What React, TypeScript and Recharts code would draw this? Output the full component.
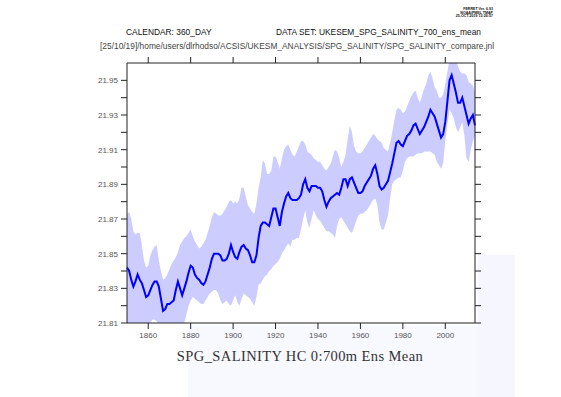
import React from "react";
import {
  ComposedChart,
  Area,
  Line,
  XAxis,
  YAxis,
} from "recharts";

// annual values, 1850..2014
const startYear = 1850;

const meanSal = [
  21.842, 21.840, 21.835, 21.831, 21.834, 21.838, 21.835, 21.833, 21.829, 21.825,
  21.826, 21.829, 21.832, 21.834, 21.834, 21.831, 21.824, 21.817, 21.818, 21.821,
  21.821, 21.822, 21.823, 21.829, 21.834, 21.830, 21.826, 21.830, 21.834, 21.839,
  21.843, 21.842, 21.838, 21.836, 21.835, 21.833, 21.832, 21.834, 21.838, 21.842,
  21.847, 21.850, 21.850, 21.850, 21.849, 21.846, 21.846, 21.847, 21.850, 21.855,
  21.851, 21.848, 21.847, 21.851, 21.854, 21.855, 21.853, 21.852, 21.849, 21.845,
  21.845, 21.849, 21.859, 21.866, 21.868, 21.868, 21.867, 21.866, 21.871, 21.876,
  21.876, 21.871, 21.866, 21.874, 21.879, 21.883, 21.885, 21.882, 21.881, 21.881,
  21.881, 21.882, 21.884, 21.890, 21.893, 21.888, 21.886, 21.889, 21.889, 21.889,
  21.888, 21.888, 21.886, 21.881, 21.877, 21.880, 21.882, 21.883, 21.884, 21.885,
  21.884, 21.888, 21.893, 21.893, 21.889, 21.893, 21.894, 21.891, 21.888, 21.885,
  21.885, 21.886, 21.889, 21.891, 21.893, 21.895, 21.899, 21.901, 21.896, 21.889,
  21.887, 21.888, 21.890, 21.892, 21.897, 21.902, 21.908, 21.914, 21.915, 21.913,
  21.912, 21.915, 21.918, 21.919, 21.921, 21.924, 21.925, 21.922, 21.919, 21.921,
  21.923, 21.926, 21.929, 21.933, 21.931, 21.929, 21.925, 21.921, 21.917, 21.919,
  21.926, 21.938, 21.950, 21.953, 21.948, 21.943, 21.937, 21.937, 21.940, 21.935,
  21.930, 21.925, 21.928, 21.930, 21.924,
];

const upperSal = [
  21.873, 21.874, 21.870, 21.863, 21.861, 21.862, 21.862, 21.855, 21.846, 21.842,
  21.843, 21.849, 21.852, 21.854, 21.855, 21.846, 21.840, 21.835, 21.836, 21.838,
  21.841, 21.844, 21.846, 21.848, 21.851, 21.855, 21.857, 21.859, 21.860, 21.862,
  21.864, 21.860, 21.857, 21.855, 21.853, 21.854, 21.856, 21.858, 21.862, 21.866,
  21.871, 21.874, 21.873, 21.872, 21.872, 21.873, 21.875, 21.877, 21.880, 21.881,
  21.879, 21.880, 21.879, 21.882, 21.888, 21.888, 21.883, 21.878, 21.876, 21.874,
  21.873, 21.879, 21.888, 21.894, 21.904, 21.902, 21.896, 21.896, 21.898, 21.906,
  21.906, 21.903, 21.899, 21.905, 21.910, 21.912, 21.913, 21.910, 21.907, 21.906,
  21.909, 21.912, 21.915, 21.915, 21.913, 21.909, 21.908, 21.907, 21.905, 21.904,
  21.903, 21.903, 21.901, 21.899, 21.898, 21.900, 21.902, 21.906, 21.910, 21.909,
  21.905, 21.900, 21.903, 21.907, 21.916, 21.924, 21.920, 21.912, 21.909, 21.908,
  21.908, 21.909, 21.911, 21.913, 21.915, 21.917, 21.919, 21.918, 21.916, 21.915,
  21.914, 21.911, 21.910, 21.909, 21.914, 21.920, 21.927, 21.933, 21.934, 21.933,
  21.931, 21.932, 21.935, 21.938, 21.941, 21.943, 21.944, 21.940, 21.937, 21.941,
  21.945, 21.948, 21.953, 21.955, 21.951, 21.946, 21.944, 21.940, 21.940, 21.942,
  21.948, 21.955, 21.962, 21.965, 21.965, 21.963, 21.958, 21.955, 21.954, 21.954,
  21.953, 21.949, 21.948, 21.947, 21.943,
];

const lowerSal = [
  21.806, 21.805, 21.802, 21.800, 21.805, 21.810, 21.807, 21.806, 21.806, 21.805,
  21.808, 21.810, 21.812, 21.812, 21.811, 21.808, 21.804, 21.799, 21.800, 21.802,
  21.801, 21.800, 21.800, 21.804, 21.808, 21.806, 21.806, 21.810, 21.815, 21.820,
  21.823, 21.825, 21.824, 21.823, 21.822, 21.821, 21.821, 21.823, 21.825, 21.827,
  21.828, 21.829, 21.829, 21.827, 21.823, 21.821, 21.822, 21.823, 21.821, 21.820,
  21.823, 21.826, 21.822, 21.820, 21.824, 21.827, 21.826, 21.825, 21.824, 21.822,
  21.820, 21.825, 21.832, 21.833, 21.835, 21.837, 21.838, 21.840, 21.841, 21.843,
  21.844, 21.845, 21.847, 21.850, 21.852, 21.854, 21.856, 21.854, 21.858, 21.858,
  21.859, 21.859, 21.864, 21.870, 21.875, 21.868, 21.865, 21.870, 21.875, 21.872,
  21.870, 21.869, 21.867, 21.865, 21.863, 21.863, 21.862, 21.861, 21.859, 21.866,
  21.870, 21.871, 21.869, 21.867, 21.865, 21.863, 21.862, 21.865, 21.869, 21.872,
  21.873, 21.873, 21.874, 21.875, 21.877, 21.879, 21.881, 21.882, 21.878, 21.868,
  21.864, 21.864, 21.868, 21.872, 21.882, 21.890, 21.892, 21.893, 21.894, 21.894,
  21.898, 21.903, 21.905, 21.906, 21.906, 21.906, 21.907, 21.908, 21.908, 21.908,
  21.909, 21.909, 21.909, 21.909, 21.908, 21.907, 21.903, 21.901, 21.899, 21.902,
  21.915, 21.925, 21.933, 21.931, 21.928, 21.923, 21.920, 21.923, 21.926, 21.918,
  21.905, 21.903, 21.910, 21.915, 21.918,
];

const xTicks = [1860, 1880, 1900, 1920, 1940, 1960, 1980, 2000];
const yTicks = [
  21.81, 21.82, 21.83, 21.84, 21.85, 21.86, 21.87, 21.88,
  21.89, 21.9, 21.91, 21.92, 21.93, 21.94, 21.95,
];
const yLabelled = [21.81, 21.83, 21.85, 21.87, 21.89, 21.91, 21.93, 21.95];

const headerLines = [
  "CALENDAR: 360_DAY",
  "DATA SET: UKESEM_SPG_SALINITY_700_ens_mean",
  "[25/10/19]/home/users/dlrhodso/ACSIS/UKESM_ANALYSIS/SPG_SALINITY/SPG_SALINITY_compare.jnl",
];
const ferretLines = ["FERRET Ver. 6.93", "NOAA/PMEL TMAP", "25-OCT-2019 13:26:57"];
const title = "SPG_SALINITY HC 0:700m Ens Mean";

const data = meanSal.map((m, i) => ({
  year: startYear + i,
  mean: m,
  band: [lowerSal[i], upperSal[i]],
}));

const axisColor = "#222";
const tickFont = { fill: "#555", fontSize: 8, fontFamily: "Liberation Sans, Arial, sans-serif" };

export default function App() {
  return (
    <div style={{ position: "absolute", left: 0, top: 0, width: 561, height: 397, background: "#fff" }}>
      <svg width={561} height={397} style={{ position: "absolute", left: 0, top: 0 }}>
        <rect x={188} y={326} width={312} height={71} fill="#f8f8ff" />
        <rect x={478} y={255} width={37} height={142} fill="#f6f6ff" />
      </svg>
      <div style={{ position: "absolute", left: 0, top: 0 }}>
        <ComposedChart
          width={561}
          height={397}
          data={data}
          margin={{ top: 62, right: 76, bottom: 54, left: 0 }}
        >
          <XAxis
            xAxisId="bottom"
            dataKey="year"
            type="number"
            domain={[1850, 2014]}
            ticks={xTicks}
            height={20}
            tickSize={6}
            tickMargin={3}
            stroke={axisColor}
            tick={tickFont}
          />
          <XAxis
            xAxisId="top"
            orientation="top"
            dataKey="year"
            type="number"
            domain={[1850, 2014]}
            ticks={xTicks}
            height={1}
            tickSize={6}
            stroke={axisColor}
            tickFormatter={() => ""}
          />
          <YAxis
            yAxisId="left"
            type="number"
            domain={[21.81, 21.96]}
            allowDataOverflow
            ticks={yTicks}
            width={127}
            tickSize={6}
            tickMargin={3}
            stroke={axisColor}
            tick={tickFont}
            tickFormatter={(v: number) => (yLabelled.some((t) => Math.abs(t - v) < 1e-6) ? v.toFixed(2) : "")}
          />
          <YAxis
            yAxisId="right"
            orientation="right"
            type="number"
            domain={[21.81, 21.96]}
            allowDataOverflow
            ticks={yTicks}
            width={10}
            tickSize={6}
            stroke={axisColor}
            tickFormatter={() => ""}
          />
          <Area
            xAxisId="bottom"
            yAxisId="left"
            dataKey="band"
            stroke="none"
            fill="#ccccff"
            fillOpacity={1}
            isAnimationActive={false}
          />
          <Line
            xAxisId="bottom"
            yAxisId="left"
            dataKey="mean"
            stroke="#0000ff"
            strokeWidth={2}
            dot={false}
            isAnimationActive={false}
          />
        </ComposedChart>
      </div>
      <svg width={561} height={397} style={{ position: "absolute", left: 0, top: 0, pointerEvents: "none" }}>
        <g fontFamily="Liberation Sans, Arial, sans-serif" fill="#111">
          <text x={126} y={35} fontSize={8.4}>{headerLines[0]}</text>
          <text x={276} y={35} fontSize={8.4}>{headerLines[1]}</text>
          <text x={100} y={49} fontSize={8.4} fill="#444">{headerLines[2]}</text>
          {ferretLines.map((s, i) => (
            <text key={s} x={493} y={10 + i * 3.6} fontSize={3.6} textAnchor="end" fontWeight="bold">
              {s}
            </text>
          ))}
        </g>
        <text
          x={300}
          y={361}
          fontSize={14.5}
          textAnchor="middle"
          fill="#333"
          fontFamily="Liberation Serif, Times New Roman, serif"
          letterSpacing={0.4}
        >
          {title}
        </text>
      </svg>
    </div>
  );
}
